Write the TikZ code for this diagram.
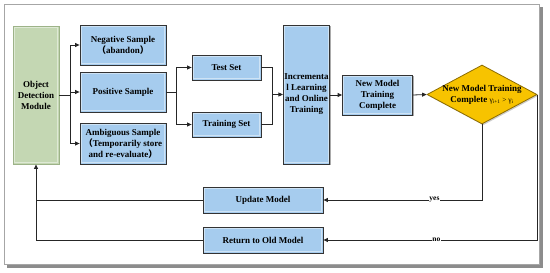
\documentclass[tikz,border=0pt]{standalone}
\usepackage{fontspec}
\setmainfont{Liberation Serif}
\newfontfamily\cjk{Noto Sans CJK SC}
\usetikzlibrary{shapes.geometric,arrows.meta,shadows}
\definecolor{boxblue}{HTML}{A6CCEE}
\definecolor{boxedge}{HTML}{333333}
\definecolor{odgreen}{HTML}{C4D7B3}
\definecolor{odedge}{HTML}{9DB388}
\definecolor{gold}{HTML}{F7C300}
\definecolor{goldedge}{HTML}{8C6C00}
\definecolor{lineclr}{HTML}{262626}
\tikzset{
  txt/.style={font=\bfseries\fontsize{9}{11}\selectfont, align=center},
  bevel/.style={path picture={\draw[white, opacity=0.45, line width=0.9pt]
      ([xshift=1.3pt,yshift=-1.3pt]path picture bounding box.north west) rectangle
      ([xshift=-1.3pt,yshift=1.3pt]path picture bounding box.south east);}},
  bbox/.style={txt, draw=boxedge, fill=boxblue, line width=0.8pt, inner sep=1pt, bevel,
    drop shadow={shadow xshift=1.3pt, shadow yshift=-1.3pt, fill=black!60, opacity=0.55}},
  gbox/.style={txt, draw=odedge, fill=odgreen, line width=0.9pt, inner sep=1pt, bevel,
    drop shadow={shadow xshift=1.3pt, shadow yshift=-1.3pt, fill=black!50, opacity=0.4}},
  dbox/.style={diamond, draw=goldedge, fill=gold, line width=0.8pt, inner sep=0pt,
    minimum width=110pt, minimum height=59pt,
    drop shadow={shadow xshift=1.3pt, shadow yshift=-1.3pt, fill=black!50, opacity=0.4}},
  conn/.style={draw=lineclr, line width=0.8pt},
  arr/.style={conn, -{Triangle[length=4.5pt,width=4pt]}},
  lbl/.style={fill=white, inner sep=0.6pt, font=\bfseries\fontsize{7.5}{8}\selectfont},
}
\begin{document}
\begin{tikzpicture}[x=1pt,y=-1pt]
\useasboundingbox (0,0) rectangle (550,273);
% frame
\fill[black!45] (7,7) rectangle (543,268);
\draw[fill=white, draw=black!35, line width=0.8pt] (4,4) rectangle (539,264);

\node[gbox, minimum width=46pt, minimum height=138pt] (od) at (36,95)
  {Object\\Detection\\Module};
\node[bbox, minimum width=86pt, minimum height=40pt] (neg) at (123,45)
  {Negative Sample\\{\cjk （}abandon{\cjk ）}};
\node[bbox, minimum width=86pt, minimum height=40pt] (pos) at (123,92)
  {Positive Sample};
\node[bbox, minimum width=86pt, minimum height=41pt] (amb) at (123,143.5)
  {Ambiguous Sample\\{\cjk （}Temporarily store\\and re-evaluate{\cjk ）}};
\node[bbox, minimum width=69pt, minimum height=25pt] (test) at (226.5,67.5) {Test Set};
\node[bbox, minimum width=69pt, minimum height=25pt] (train) at (226.5,124.5) {Training Set};
\node[bbox, minimum width=45pt, minimum height=139pt] (inc) at (306.5,94.5)
  {Incrementa\\l Learning\\and Online\\Training};
\node[bbox, minimum width=70pt, minimum height=40pt] (nmtc) at (377.5,95)
  {New Model\\Training\\Complete};
\node[dbox] (dec) at (482,94.5) {};
\node[txt] (dect) at (482,94.5) {New Model Training\\Complete {\fontsize{7.5}{9}\selectfont\mdseries γ\textsubscript{i+1} > γ\textsubscript{i}}};
\node[bbox, minimum width=120pt, minimum height=26pt] (upd) at (263,200) {Update Model};
\node[bbox, minimum width=120pt, minimum height=26pt] (ret) at (263,240) {Return to Old Model};

\coordinate (j1) at (70,95);
\coordinate (j2) at (176,92);
\coordinate (j3) at (272,94.5);

\draw[conn] (od.east) -- (j1);
\draw[conn] (j1 |- neg.west) -- (j1 |- amb.west);
\draw[arr] (j1 |- neg.west) -- (neg.west);
\draw[arr] (j1 |- pos.west) -- (pos.west);
\draw[arr] (j1 |- amb.west) -- (amb.west);

\draw[conn] (pos.east) -- (j2);
\draw[conn] (j2 |- test.west) -- (j2 |- train.west);
\draw[arr] (j2 |- test.west) -- (test.west);
\draw[arr] (j2 |- train.west) -- (train.west);

\draw[conn] (test.east) -- (j3 |- test.east) -- (j3 |- train.east) -- (train.east);
\draw[arr] (j3) -- (inc.west |- j3);
\draw[arr] (inc.east |- nmtc.west) -- (nmtc.west);
\draw[arr] (nmtc.east) -- (dec.west);

\draw[arr] (dec.south) |- node[lbl, pos=0.65] {yes} (upd.east);
\draw[arr] (dec.east) |- node[lbl, pos=0.736] {no} (ret.east);

\draw[conn] (upd.west) -- (od.south |- upd.west);
\draw[arr] (ret.west) -| (od.south);
\end{tikzpicture}
\end{document}
